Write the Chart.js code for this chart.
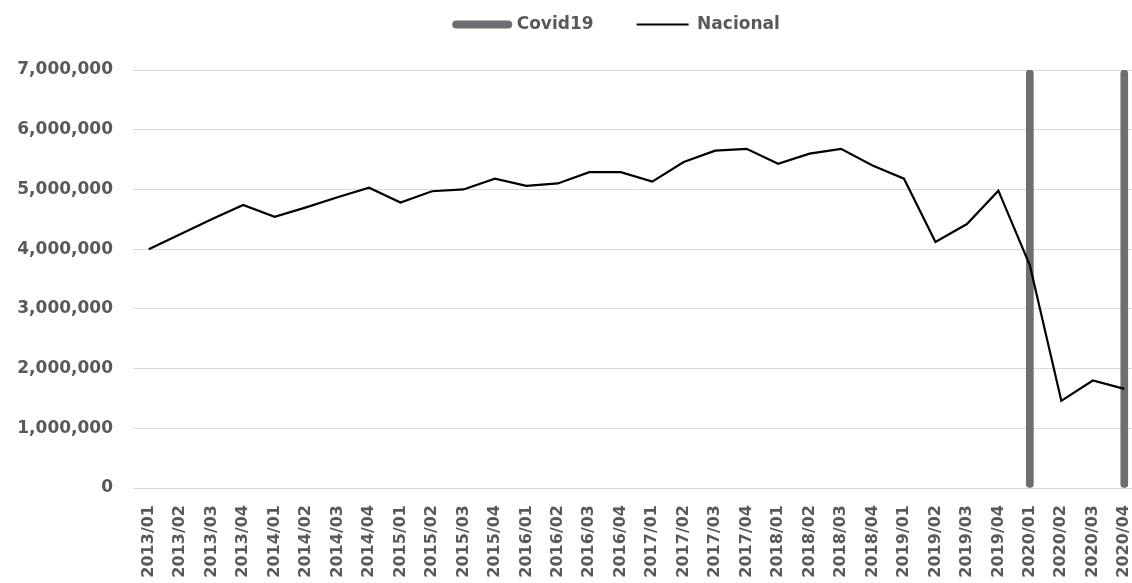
<!DOCTYPE html>
<html>
<head>
<meta charset="utf-8">
<script src="https://cdn.jsdelivr.net/npm/chart.js@4"></script>
<style>
  html, body { margin: 0; padding: 0; background: #fff; overflow: hidden; }
  #wrap { width: 1140px; height: 583px; }
</style>
</head>
<body>
<div id="wrap"><canvas id="chart" width="1140" height="583"></canvas></div>
<script>
// Quarters 2013/01 .. 2020/04
const years = ["2013", "2014", "2015", "2016", "2017", "2018", "2019", "2020"];
const quarters = ["01", "02", "03", "04"];
const labels = [];
years.forEach(y => quarters.forEach(q => labels.push(y + "/" + q)));

// Nacional
const nacional = [
  4000000, 4250000, 4500000, 4740000,
  4540000, 4700000, 4870000, 5030000,
  4780000, 4970000, 5000000, 5180000,
  5060000, 5100000, 5290000, 5290000,
  5130000, 5460000, 5650000, 5680000,
  5430000, 5600000, 5680000, 5400000,
  5180000, 4120000, 4420000, 4980000,
  3730000, 1460000, 1800000, 1660000
];

// Covid19 markers at 2020/01 and 2020/04
const covid19 = labels.map(l => (l === "2020/01" || l === "2020/04") ? 7000000 : null);

const yTicks = [0, 1000000, 2000000, 3000000, 4000000, 5000000, 6000000, 7000000];

const fontFamily = "'DejaVu Sans', sans-serif";
const textColor = "#595959";
const covidColor = "#6d6e71";

// legend: extra room below it, and nudge it to the right like the original
const legendTweak = {
  id: "legendTweak",
  beforeInit(chart) {
    const origFit = chart.legend.fit;
    chart.legend.fit = function() {
      origFit.bind(chart.legend)();
      this.height += 27;
    };
  },
  afterLayout(chart) {
    chart.legend.left += 48;
    chart.legend.right += 48;
  }
};

new Chart(document.getElementById("chart").getContext("2d"), {
  data: {
    labels: labels,
    datasets: [
      {
        type: "bar",
        label: "Covid19",
        data: covid19,
        backgroundColor: covidColor,
        barThickness: 7,
        borderRadius: 4,
        borderSkipped: false,
        order: 2
      },
      {
        type: "line",
        label: "Nacional",
        data: nacional,
        borderColor: "#000000",
        borderWidth: 2.2,
        pointRadius: 0,
        tension: 0,
        fill: false,
        order: 1
      }
    ]
  },
  options: {
    responsive: false,
    animation: false,
    layout: { padding: { top: -27, left: 0, right: 0, bottom: 0 } },
    plugins: {
      tooltip: { enabled: false },
      legend: {
        position: "top",
        labels: {
          usePointStyle: true,
          pointStyleWidth: 52,
          padding: 43,
          color: textColor,
          font: { family: fontFamily, size: 17, weight: "bold" },
          generateLabels(chart) {
            return chart.data.datasets.map((ds, i) => ({
              text: ds.label,
              datasetIndex: i,
              pointStyle: "line",
              fillStyle: i === 0 ? covidColor : "#000",
              strokeStyle: i === 0 ? covidColor : "#000",
              lineWidth: i === 0 ? 8 : 2,
              lineCap: i === 0 ? "round" : "butt",
              fontColor: textColor,
              hidden: false
            }));
          }
        }
      }
    },
    scales: {
      x: {
        offset: true,
        grid: { display: false },
        border: { display: false },
        ticks: {
          autoSkip: false,
          minRotation: 90,
          maxRotation: 90,
          padding: 9,
          color: textColor,
          font: { family: fontFamily, size: 16, weight: "bold" }
        },
        afterFit(scale) {
          scale.height = 95;
          scale.paddingLeft = 0;
          scale.paddingRight = 0;
        }
      },
      y: {
        min: 0,
        max: 7000000,
        grid: { color: "#d9d9d9", lineWidth: 1, drawTicks: false },
        border: { display: false },
        afterBuildTicks(scale) { scale.ticks = yTicks.map(v => ({ value: v })); },
        ticks: {
          padding: 20,
          color: textColor,
          font: { family: fontFamily, size: 17, weight: "bold" },
          callback: v => v.toLocaleString("en-US")
        },
        afterFit(scale) { scale.width = 133; }
      }
    }
  },
  plugins: [legendTweak]
});
</script>
</body>
</html>
